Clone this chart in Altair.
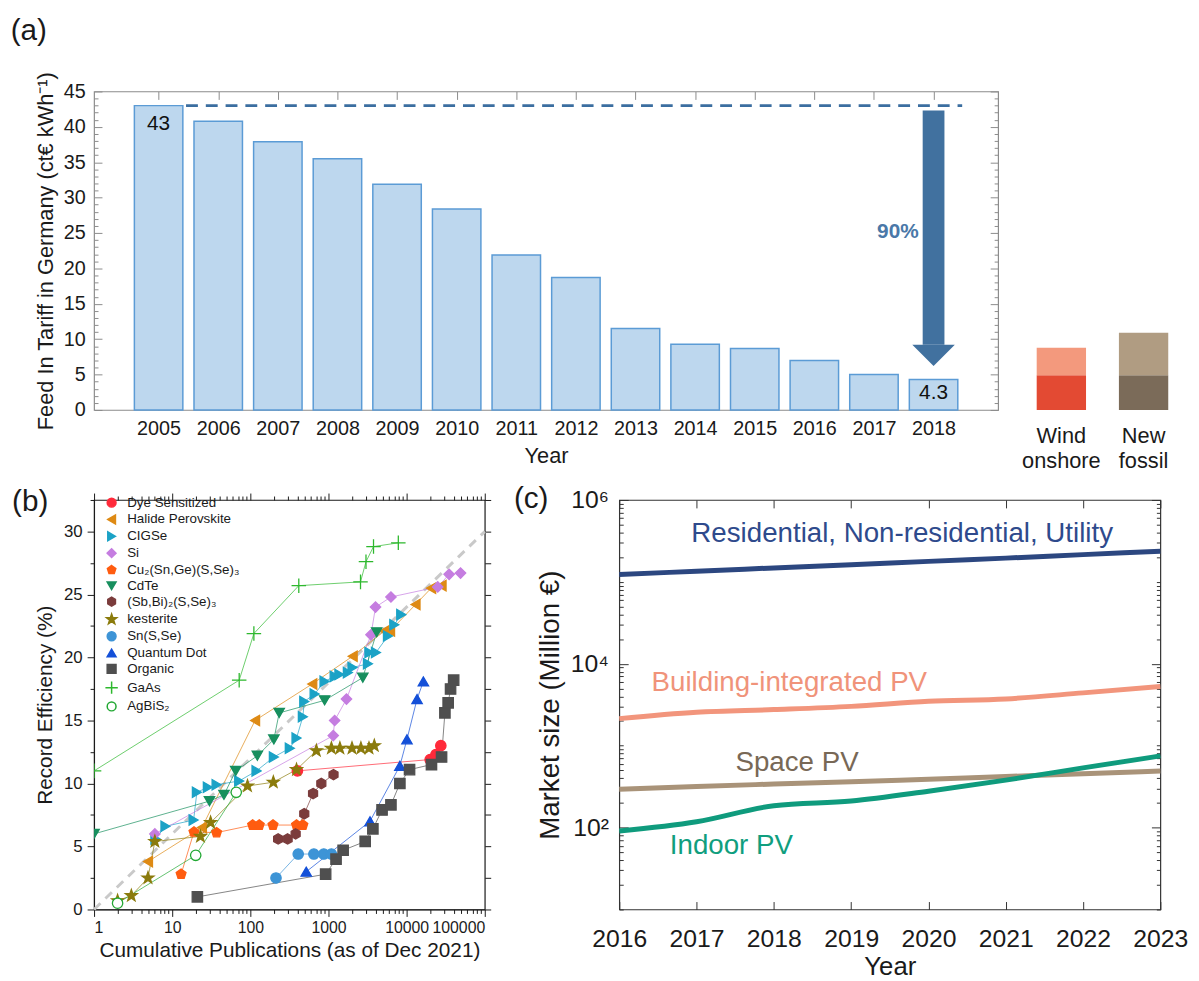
import altair as alt
import pandas as pd

FONT = "Liberation Sans"
INK = "#1a1a1a"

# ---------------- (a) feed-in tariff in Germany ----------------
fit_years = list(range(2005, 2019))
fit_tariff = [43.0, 40.8, 37.9, 35.5, 31.9, 28.4, 21.9, 18.7, 11.5, 9.3, 8.7, 7.0, 5.0, 4.3]
fit_first_label = "43"
fit_last_label = "4.3"
fit_drop_label = "90%"
lcoe_tech = ["Wind onshore", "New fossil"]
lcoe_low = [4.9, 4.9]
lcoe_high = [8.8, 10.9]

# ---------------- (b) record efficiency vs cumulative publications ----------------
tech_names = ["Dye Sensitized", "Halide Perovskite", "CIGSe", "Si", "Cu₂(Sn,Ge)(S,Se)₃", "CdTe",
              "(Sb,Bi)₂(S,Se)₃", "kesterite", "Sn(S,Se)", "Quantum Dot", "Organic", "GaAs", "AgBiS₂"]
dye_pubs = [400, 20000, 23700, 27400]
dye_eff = [11.0, 11.9, 12.3, 13.0]
pero_pubs = [4.9, 24, 115, 620, 2040, 5180, 6140, 13000, 20600, 28000]
pero_eff = [3.8, 6.5, 15.0, 17.9, 20.1, 22.1, 22.1, 24.2, 25.5, 25.7]
cigs_pubs = [6.1, 8.2, 18.8, 20.7, 28.6, 37, 72, 120, 200, 320, 390, 470, 490, 665, 890, 1200,
             1380, 1770, 2030, 3200, 3340, 4050, 5770, 6960, 8530]
cigs_eff = [5.6, 6.6, 7.1, 9.3, 9.7, 9.9, 10.2, 11.0, 12.1, 12.8, 13.6, 15.3, 16.5, 17.1, 18.1, 18.5,
            18.65, 18.8, 19.2, 19.5, 20.4, 20.4, 21.7, 22.6, 23.4]
si_pubs = [6, 1150, 1200, 1700, 3500, 4000, 6300, 25000, 35000, 49000]
si_eff = [6.0, 13.8, 15.0, 16.7, 21.8, 24.0, 24.8, 25.6, 26.6, 26.7]
ctgs_pubs = [13, 19, 37, 107, 130, 195, 390, 470]
ctgs_eff = [2.8, 6.15, 6.1, 6.7, 6.7, 6.7, 6.7, 6.7]
cdte_pubs = [1, 30, 46, 65, 123, 200, 234, 894, 2750, 4140]
cdte_eff = [6.0, 8.6, 9.1, 11.0, 12.2, 13.5, 15.6, 16.6, 18.4, 22.0]
sbbi_pubs = [227, 300, 380, 490, 635, 810, 1160]
sbbi_eff = [5.6, 5.6, 6.0, 7.6, 9.2, 10.0, 10.7]
kest_pubs = [2, 3, 4.9, 6, 23, 31, 92, 197, 390, 700, 1090, 1400, 2000, 2600, 3300, 3860]
kest_eff = [0.7, 1.1, 2.5, 5.4, 5.8, 6.9, 9.8, 10.1, 11.1, 12.6, 12.8, 12.8, 12.8, 12.8, 12.8, 13.0]
sns_pubs = [213, 410, 650, 870, 1090]
sns_eff = [2.5, 4.4, 4.4, 4.4, 4.4]
qd_pubs = [520, 3400, 8200, 10100, 13600, 16400]
qd_eff = [3.0, 7.0, 11.4, 13.5, 16.7, 18.1]
opv_pubs = [21, 920, 1250, 1540, 2950, 3700, 4850, 6300, 8200, 10900, 20800, 28000, 30900, 34000, 36500, 40000]
opv_eff = [1.0, 2.8, 4.0, 4.7, 5.4, 6.4, 7.9, 8.3, 10.0, 11.1, 11.5, 12.1, 15.6, 16.4, 17.5, 18.2]
gaas_pubs = [1, 72, 111, 417, 2570, 3020, 3770, 7830]
gaas_eff = [11.0, 18.2, 21.9, 25.7, 26.0, 27.6, 28.8, 29.1]
agbis_pubs = [2, 20, 66]
agbis_eff = [0.5, 4.3, 9.3]
ref_pubs = [1, 100000]
ref_eff = [0, 30]

tech_pubs = [dye_pubs, pero_pubs, cigs_pubs, si_pubs, ctgs_pubs, cdte_pubs, sbbi_pubs, kest_pubs,
             sns_pubs, qd_pubs, opv_pubs, gaas_pubs, agbis_pubs]
tech_eff = [dye_eff, pero_eff, cigs_eff, si_eff, ctgs_eff, cdte_eff, sbbi_eff, kest_eff,
            sns_eff, qd_eff, opv_eff, gaas_eff, agbis_eff]

# ---------------- (c) market size ----------------
market_years = list(range(2016, 2024))
market_res = [123000, 135000, 148000, 162000, 178000, 195000, 215000, 237000]
market_bipv = [2140, 2560, 2760, 3020, 3480, 3720, 4410, 5270]
market_space = [293, 318, 340, 362, 390, 420, 455, 490]
market_indoor = [91, 118, 185, 211, 278, 380, 535, 750]
market_names = ["Residential, Non-residential, Utility", "Building-integrated PV", "Space PV", "Indoor PV"]
market_label_year = [2019.66, 2018.2, 2018.3, 2017.45]
market_label_size = [381000, 5850, 618, 58.8]

# ---------------- styles ----------------
tech_colors = ["#ff2a3a", "#de8a14", "#1ba2c6", "#c57de0", "#ff5c10", "#178f5e", "#7b3c3c",
               "#8b7b0c", "#3d94d6", "#1450d8", "#4f4f4f", "#2db82d", "#22a833"]
tech_fills = tech_colors[:-1] + ["white"]
PENT = "M 0 -1 L 0.951 -0.309 L 0.588 0.809 L -0.588 0.809 L -0.951 -0.309 Z"
HEX = "M 0 -1 L 0.866 -0.5 L 0.866 0.5 L 0 1 L -0.866 0.5 L -0.866 -0.5 Z"
STAR = ("M 0 -1.2 L 0.282 -0.389 L 1.141 -0.371 L 0.456 0.149 L 0.706 0.971 L 0 0.48 "
        "L -0.706 0.971 L -0.456 0.149 L -1.141 -0.371 L -0.282 -0.389 Z")
PLUS = "M -1.4 0 L 1.4 0 M 0 -1.4 L 0 1.4"
tech_shapes = ["circle", "triangle-left", "triangle-right", "diamond", PENT, "triangle-down", HEX,
               STAR, "circle", "triangle-up", "square", PLUS, "circle"]
market_colors = ["#2c4780", "#f2957c", "#a99379", "#0f9b7d"]
market_text_colors = ["#2e4a8c", "#f0937a", "#786856", "#109e7e"]
wind_colors = ["#e34a33", "#f3997d"]
fossil_colors = ["#7b6b59", "#b09c82"]


def ax(**kw):
    base = dict(grid=False, labelFont=FONT, titleFont=FONT, labelColor=INK, titleColor=INK,
                titleFontWeight="normal", domainColor="#444", tickColor="#444")
    base.update(kw)
    return alt.Axis(**base)


def cond(test, a, b):
    return {"condition": {"test": test, "value": a}, "value": b}


def ptitle(txt, dx, offset):
    return alt.TitleParams(text=txt, anchor="start", frame="bounds", fontSize=30, font=FONT,
                           fontWeight="normal", color=INK, dx=dx, offset=offset)


# =============== panel (a) ===============
df_a = pd.DataFrame({"year": fit_years, "tariff": fit_tariff})
xs_a = alt.Scale(domain=[2004, 2019], nice=False, zero=False)
ys_a = alt.Scale(domain=[0, 45], nice=False)
yints = list(range(0, 46))
y_major = [v for v in yints if v % 5 == 0]
y_minor = [v for v in yints if v % 5 != 0]
FRAME_A = "#8c8c8c"

bars = alt.Chart(df_a).mark_bar(size=49, fill="#bdd7ee", stroke="#5b9bd5", strokeWidth=1.5).encode(
    x=alt.X("year:Q", scale=xs_a, axis=ax(values=fit_years, format="d", title="Year", labelFontSize=20,
                                          titleFontSize=22, tickSize=8, offset=-8, domain=False,
                                          labelPadding=9, titlePadding=7, labelFlush=False,
                                          tickColor=FRAME_A)),
    y=alt.Y("tariff:Q", scale=ys_a, axis=ax(values=y_major, tickSize=8, offset=-8, domain=False,
                                            labelPadding=9, labelFontSize=20,
                                            title="Feed In Tariff in Germany (ct€ kWh⁻¹)",
                                            titleFontSize=22, titlePadding=6, tickColor=FRAME_A)),
)

df_dash = pd.DataFrame({"x": [fit_years[0] + 0.46], "x2": [fit_years[-1] + 0.48], "y": [fit_tariff[0]]})
dash = alt.Chart(df_dash).mark_rule(strokeDash=[12, 8], strokeWidth=2.6, color="#3b6ea0").encode(
    x=alt.X("x:Q", scale=xs_a, axis=None), x2="x2:Q", y=alt.Y("y:Q", scale=ys_a, axis=None))

df_arrow = pd.DataFrame({"x": [fit_years[-1]], "y": [fit_tariff[0] - 0.7], "y2": [9.2], "yh": [7.7]})
shaft = alt.Chart(df_arrow).mark_rule(strokeWidth=22, strokeCap="butt", color="#41719f").encode(
    x=alt.X("x:Q", scale=xs_a, axis=None), y=alt.Y("y:Q", scale=ys_a, axis=None), y2="y2:Q")
head = alt.Chart(df_arrow).mark_point(shape="M -1 -0.5 L 1 -0.5 L 0 0.5 Z", size=1849, filled=True,
                                      color="#41719f", opacity=1, strokeWidth=0).encode(
    x=alt.X("x:Q", scale=xs_a, axis=None), y=alt.Y("yh:Q", scale=ys_a, axis=None))

df_vals = pd.DataFrame({"x": [fit_years[0], fit_years[-1]],
                        "y": [fit_tariff[0] - 2.65, fit_tariff[-1] - 1.9],
                        "t": [fit_first_label, fit_last_label]})
vals = alt.Chart(df_vals).mark_text(fontSize=21, font=FONT, color="#111", baseline="middle").encode(
    x=alt.X("x:Q", scale=xs_a, axis=None), y=alt.Y("y:Q", scale=ys_a, axis=None), text="t:N")

df_pct = pd.DataFrame({"x": [2017.75], "y": [25.2], "t": [fit_drop_label]})
pct = alt.Chart(df_pct).mark_text(fontSize=21, font=FONT, fontWeight="bold", color="#4a78a8",
                                  align="right", baseline="middle").encode(
    x=alt.X("x:Q", scale=xs_a, axis=None), y=alt.Y("y:Q", scale=ys_a, axis=None), text="t:N")


def a_axis_layer(xaxis, yaxis):
    return alt.Chart(df_a).mark_point(opacity=0).encode(
        x=alt.X("year:Q", scale=xs_a, axis=xaxis), y=alt.Y("tariff:Q", scale=ys_a, axis=yaxis))


a_left_minor = a_axis_layer(None, ax(orient="left", values=y_minor, tickSize=4, offset=-4, labels=False,
                                     domain=False, title=None, tickColor=FRAME_A))
a_right_major = a_axis_layer(None, ax(orient="right", values=y_major, tickSize=8, offset=-8, labels=False,
                                      domain=False, title=None, tickColor=FRAME_A))
a_right_minor = a_axis_layer(None, ax(orient="right", values=y_minor, tickSize=4, offset=-4, labels=False,
                                      domain=False, title=None, tickColor=FRAME_A))
a_top = a_axis_layer(ax(orient="top", values=fit_years, tickSize=8, offset=-8, labels=False, domain=False,
                        title=None, tickColor=FRAME_A), None)

panel_a = alt.layer(bars, dash, shaft, head, vals, pct, a_left_minor, a_right_major, a_right_minor, a_top
                    ).resolve_axis(x="independent", y="independent").properties(
    width=914, height=322, title=ptitle("(a)", -24, 26),
    view=alt.ViewBackground(stroke=FRAME_A, strokeWidth=1.2))

df_w = pd.DataFrame({"tech": lcoe_tech, "low": lcoe_low, "high": lcoe_high})
xw = alt.X("tech:N", sort=lcoe_tech, scale=alt.Scale(paddingInner=0.4, paddingOuter=0),
           axis=ax(labelExpr="split(datum.value, ' ')", labelAngle=0, labelFontSize=22, labelPadding=16,
                   tickSize=0, domain=False, title=None, labelLineHeight=25))
is_wind = alt.datum.tech == lcoe_tech[0]
w_dark = alt.Chart(df_w).mark_bar().encode(
    x=xw, y=alt.Y("low:Q", scale=ys_a, axis=None),
    color=alt.condition(is_wind, alt.value(wind_colors[0]), alt.value(fossil_colors[0])))
w_light = alt.Chart(df_w).mark_bar().encode(
    x=xw, y=alt.Y("low:Q", scale=ys_a, axis=None), y2="high:Q",
    color=alt.condition(is_wind, alt.value(wind_colors[1]), alt.value(fossil_colors[1])))
panel_w = alt.layer(w_dark, w_light).properties(width=133, height=322,
                                                view=alt.ViewBackground(stroke="transparent"))

# =============== panel (b) ===============
rows = []
for name, xs, ys in zip(tech_names, tech_pubs, tech_eff):
    for i, (x, y) in enumerate(zip(xs, ys)):
        rows.append({"tech": name, "pubs": x, "eff": y, "order": i})
df_b = pd.DataFrame(rows)
df_ref = pd.DataFrame({"pubs": ref_pubs, "eff": ref_eff})

log_ticks_b = [m * 10 ** k for k in range(5) for m in range(1, 10)] + [100000]
DEC = "indexof([1,10,100,1000,10000,100000], datum.value) >= 0"
xs_b = alt.Scale(type="log", domain=[1, 100000], nice=False)
ys_b = alt.Scale(domain=[0, 32.5], nice=False, zero=False)
eff_ticks = [i * 2.5 for i in range(14)]

ref = alt.Chart(df_ref).mark_line(strokeDash=[9, 7], strokeWidth=3, color="#c9c9c9").encode(
    x=alt.X("pubs:Q", scale=xs_b,
            axis=ax(values=log_ticks_b, labelExpr=f"{DEC} ? format(datum.value, 'd') : ''",
                    tickSize=cond(DEC, 7, 4), labelFontSize=16, labelPadding=3, labelOverlap=False,
                    title="Cumulative Publications (as of Dec 2021)", titleFontSize=21, titlePadding=5,
                    domainColor=INK, tickColor=INK)),
    y=alt.Y("eff:Q", scale=ys_b,
            axis=ax(values=eff_ticks, labelExpr="datum.value % 5 == 0 ? datum.value : ''",
                    tickSize=cond("datum.value % 5 == 0", 7, 4), labelFontSize=17, labelPadding=5,
                    labelOverlap=False, title="Record Efficiency (%)", titleFontSize=21, titlePadding=8,
                    domainColor=INK, tickColor=INK)))

# the legend is lifted to the top level; its position is relative to panel (a)'s plot origin
leg = alt.Legend(title=None, orient="none", legendX=11, legendY=409, padding=0, labelFont=FONT,
                 labelFontSize=13.5, labelColor=INK, symbolSize=80, symbolStrokeWidth=1.5, rowPadding=1,
                 labelOffset=9)
stroke_enc = alt.Stroke("tech:N", scale=alt.Scale(domain=tech_names, range=tech_colors), legend=leg)

lines_b = alt.Chart(df_b).mark_line(strokeWidth=1, strokeOpacity=0.7, clip=True).encode(
    x=alt.X("pubs:Q", scale=xs_b, axis=None), y=alt.Y("eff:Q", scale=ys_b, axis=None),
    stroke=stroke_enc, order="order:Q")

pts_b = alt.Chart(df_b).mark_point(filled=True, size=110, strokeWidth=1.3, opacity=1, clip=True).encode(
    x=alt.X("pubs:Q", scale=xs_b, axis=None), y=alt.Y("eff:Q", scale=ys_b, axis=None),
    shape=alt.Shape("tech:N", scale=alt.Scale(domain=tech_names, range=tech_shapes), legend=leg),
    fill=alt.Fill("tech:N", scale=alt.Scale(domain=tech_names, range=tech_fills), legend=leg),
    stroke=stroke_enc)

b_right = alt.Chart(df_ref).mark_point(opacity=0).encode(
    x=alt.X("pubs:Q", scale=xs_b, axis=None),
    y=alt.Y("eff:Q", scale=ys_b, axis=ax(orient="right", values=eff_ticks, tickSize=6, labels=False,
                                         domain=False, title=None, tickColor=INK)))
b_top = alt.Chart(df_ref).mark_point(opacity=0).encode(
    x=alt.X("pubs:Q", scale=xs_b, axis=ax(orient="top", values=log_ticks_b, tickSize=cond(DEC, 7, 4),
                                          labels=False, domain=False, title=None, tickColor=INK)),
    y=alt.Y("eff:Q", scale=ys_b, axis=None))

panel_b = alt.layer(ref, lines_b, pts_b, b_right, b_top).resolve_axis(
    x="independent", y="independent").properties(
    width=395, height=414, title=ptitle("(b)", -23, -26),
    view=alt.ViewBackground(stroke=INK, strokeWidth=1.2))

# =============== panel (c) ===============
rows_c = []
for name, vals_c in zip(market_names, [market_res, market_bipv, market_space, market_indoor]):
    for yr, v in zip(market_years, vals_c):
        rows_c.append({"series": name, "year": yr, "size": v})
df_c = pd.DataFrame(rows_c)
df_cl = pd.DataFrame({"series": market_names, "year": market_label_year, "size": market_label_size})

xs_c = alt.Scale(domain=[2016, 2023], nice=False, zero=False)
ys_c = alt.Scale(type="log", domain=[10, 1000000], nice=False)
log_ticks_c = [m * 10 ** k for k in range(1, 6) for m in range(1, 10)] + [1000000]
c_major = [100, 10000, 1000000]
c_minor = [v for v in log_ticks_c if v not in c_major]
C_FRAME = "#333333"
C_LBL = ("datum.value == 100 ? '10²' : datum.value == 10000 ? '10⁴' : "
         "datum.value == 1000000 ? '10⁶' : ''")

x_main_c = alt.X("year:Q", scale=xs_c, axis=ax(values=market_years, format="d", labelFontSize=25, tickSize=8,
                                               offset=-8, domain=False, labelPadding=17, labelFlush=False,
                                               title="Year", titleFontSize=26, titlePadding=3,
                                               tickColor=C_FRAME))
y_main_c = alt.Y("size:Q", scale=ys_c, axis=ax(values=c_major, labelExpr=C_LBL, labelFontSize=25, tickSize=9,
                                               offset=-9, domain=False, labelPadding=11,
                                               title="Market size (Million €)", titleFontSize=28,
                                               titlePadding=6, tickColor=C_FRAME))
c_layers = []
for k, (name, col) in enumerate(zip(market_names, market_colors)):
    c_layers.append(alt.Chart(df_c).transform_filter(alt.datum.series == name).mark_line(
        strokeWidth=5, interpolate="monotone", color=col).encode(
        x=x_main_c if k == 0 else alt.X("year:Q", scale=xs_c, axis=None),
        y=y_main_c if k == 0 else alt.Y("size:Q", scale=ys_c, axis=None)))
for name, col in zip(market_names, market_text_colors):
    c_layers.append(alt.Chart(df_cl).transform_filter(alt.datum.series == name).mark_text(
        fontSize=28, font=FONT, align="center", baseline="middle", color=col).encode(
        x=alt.X("year:Q", scale=xs_c, axis=None), y=alt.Y("size:Q", scale=ys_c, axis=None),
        text="series:N"))


def c_axis_layer(xaxis, yaxis):
    return alt.Chart(df_c).mark_point(opacity=0).encode(
        x=alt.X("year:Q", scale=xs_c, axis=xaxis), y=alt.Y("size:Q", scale=ys_c, axis=yaxis))


c_layers.append(c_axis_layer(None, ax(orient="left", values=c_minor, tickSize=4, offset=-4, labels=False,
                                      domain=False, title=None, tickColor=C_FRAME)))
c_layers.append(c_axis_layer(None, ax(orient="right", values=c_major, tickSize=9, offset=-9, labels=False,
                                      domain=False, title=None, tickColor=C_FRAME)))
c_layers.append(c_axis_layer(None, ax(orient="right", values=c_minor, tickSize=4, offset=-4, labels=False,
                                      domain=False, title=None, tickColor=C_FRAME)))
c_layers.append(c_axis_layer(ax(orient="top", values=market_years, tickSize=8, offset=-8, labels=False,
                                domain=False, title=None, tickColor=C_FRAME), None))

panel_c = alt.layer(*c_layers).resolve_axis(x="independent", y="independent").properties(
    width=547, height=414, title=ptitle("(c)", -23, -26),
    view=alt.ViewBackground(stroke=C_FRAME, strokeWidth=1.2))

row1 = alt.hconcat(panel_a, panel_w, spacing=21)
row2 = alt.hconcat(panel_b, panel_c, spacing=20)
chart = alt.vconcat(row1, row2, spacing=11).properties(
    padding={"left": 2, "top": 2, "right": 2, "bottom": 2}
).configure(font=FONT)

chart.save("out.html", embed_options={"renderer": "svg", "actions": False})
